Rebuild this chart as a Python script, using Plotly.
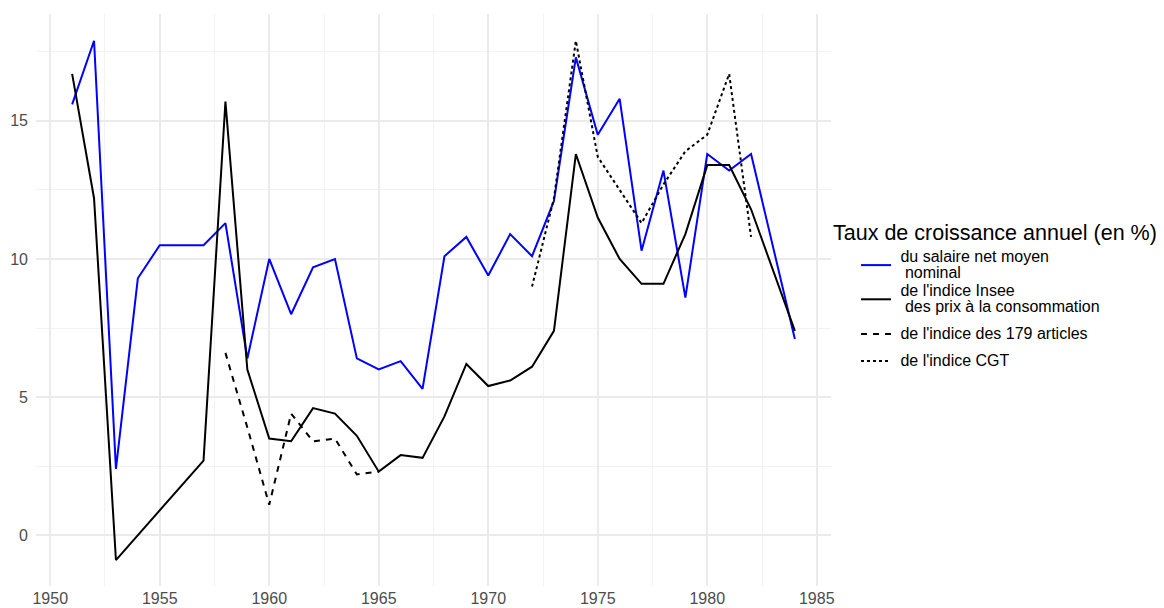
import plotly.graph_objects as go

# Data
years_salaire = [1951, 1952, 1953, 1954, 1955, 1956, 1957, 1958, 1959, 1960, 1961, 1962, 1963,
                 1964, 1965, 1966, 1967, 1968, 1969, 1970, 1971, 1972, 1973, 1974, 1975, 1976,
                 1977, 1978, 1979, 1980, 1981, 1982, 1984]
salaire = [15.6, 17.9, 2.4, 9.3, 10.5, 10.5, 10.5, 11.3, 6.4, 10.0, 8.0, 9.7, 10.0,
           6.4, 6.0, 6.3, 5.3, 10.1, 10.8, 9.4, 10.9, 10.1, 12.1, 17.3, 14.5, 15.8,
           10.3, 13.2, 8.6, 13.8, 13.2, 13.8, 7.1]

years_insee = [1951, 1952, 1953, 1957, 1958, 1959, 1960, 1961, 1962, 1963, 1964, 1965, 1966,
               1967, 1968, 1969, 1970, 1971, 1972, 1973, 1974, 1975, 1976, 1977, 1978, 1979,
               1980, 1981, 1982, 1984]
insee = [16.7, 12.2, -0.9, 2.7, 15.7, 6.0, 3.5, 3.4, 4.6, 4.4, 3.6, 2.3, 2.9,
         2.8, 4.3, 6.2, 5.4, 5.6, 6.1, 7.4, 13.8, 11.5, 10.0, 9.1, 9.1, 10.9,
         13.4, 13.4, 11.8, 7.4]

years_179 = [1958, 1959, 1960, 1961, 1962, 1963, 1964, 1965]
articles_179 = [6.6, 3.9, 1.1, 4.4, 3.4, 3.5, 2.2, 2.3]

years_cgt = [1972, 1973, 1974, 1975, 1976, 1977, 1978, 1979, 1980, 1981, 1982]
cgt = [9.0, 12.2, 17.9, 13.7, 12.5, 11.3, 12.7, 13.9, 14.5, 16.7, 10.8]

x_ticks = [1950, 1955, 1960, 1965, 1970, 1975, 1980, 1985]
y_ticks = [0, 5, 10, 15]

legend_title = "Taux de croissance annuel (en %)"
labels = [["du salaire net moyen", " nominal"],
          ["de l'indice Insee", " des prix à la consommation"],
          ["de l'indice des 179 articles"],
          ["de l'indice CGT"]]


def fmt(lines):
    out = []
    for ln in lines:
        if ln.startswith(" "):
            ln = "\u00a0" + ln[1:]
        out.append('<span style="font-size:16px">\u00a0' + ln + "</span>")
    return "<br>".join(out)


fig = go.Figure()
fig.add_trace(go.Scatter(x=years_salaire, y=salaire, mode="lines", name=fmt(labels[0]),
                         legendgroup="a", line=dict(color="#0000FF", width=2)))
fig.add_trace(go.Scatter(x=years_insee, y=insee, mode="lines", name=fmt(labels[1]),
                         legendgroup="a", line=dict(color="black", width=2)))
fig.add_trace(go.Scatter(x=years_179, y=articles_179, mode="lines", name=fmt(labels[2]),
                         legendgroup="b", line=dict(color="black", width=2, dash="6px,6px")))
fig.add_trace(go.Scatter(x=years_cgt, y=cgt, mode="lines", name=fmt(labels[3]),
                         legendgroup="c", line=dict(color="black", width=2, dash="dot")))

grid_major = "#EBEBEB"
grid_minor = "#F2F2F2"

# The page body adds an 8px offset; targets below are in screenshot pixels.
OFF = 8
W, H = 1164 - OFF, 608 - OFF
plot_l, plot_r, plot_t, plot_b = 36, 831, 14, 586


def px_x(p):
    return (p - plot_l) / (plot_r - plot_l)


def px_y(p):
    return (plot_b - p) / (plot_b - plot_t)


fig.update_layout(
    width=W, height=H,
    margin=dict(l=plot_l - OFF, r=W - (plot_r - OFF), t=plot_t - OFF, b=H - (plot_b - OFF)),
    paper_bgcolor="white", plot_bgcolor="white",
    font=dict(family="Liberation Sans, Arial, sans-serif", color="#4D4D4D", size=16),
    legend=dict(
        font=dict(size=12, color="black"),
        x=px_x(856), xanchor="left", y=px_y(243), yanchor="top",
        bgcolor="rgba(0,0,0,0)",
        tracegroupgap=8,
        itemclick=False,
    ),
    showlegend=True,
    annotations=[dict(text=legend_title, x=px_x(831), y=px_y(233), xref="paper", yref="paper",
                      xanchor="left", yanchor="middle", showarrow=False,
                      font=dict(size=21.5, color="black"))],
)
fig.update_xaxes(
    range=[1949.35, 1985.65], tickvals=x_ticks, ticktext=[str(v) for v in x_ticks],
    showgrid=True, gridcolor=grid_major, gridwidth=1.6, zeroline=False, automargin=False,
    showline=False, ticks="", tickfont=dict(size=16, color="#4D4D4D"), ticklabelstandoff=1,
    minor=dict(tickvals=[1952.5, 1957.5, 1962.5, 1967.5, 1972.5, 1977.5, 1982.5],
               showgrid=True, gridcolor=grid_minor, gridwidth=0.9),
)
fig.update_yaxes(
    range=[-1.84, 18.87], tickvals=y_ticks, ticktext=[str(v) for v in y_ticks],
    showgrid=True, gridcolor=grid_major, gridwidth=1.6, zeroline=False, automargin=False,
    showline=False, ticks="", tickfont=dict(size=16, color="#4D4D4D"), ticklabelstandoff=7,
    minor=dict(tickvals=[2.5, 7.5, 12.5, 17.5],
               showgrid=True, gridcolor=grid_minor, gridwidth=0.9),
)

fig.write_html("out.html")
